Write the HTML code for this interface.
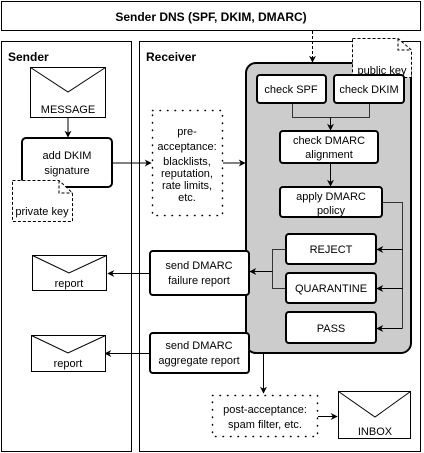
<!DOCTYPE html>
<html><head><meta charset="utf-8"><style>
html,body{margin:0;padding:0;background:#fff;}
svg{display:block;font-family:"Liberation Sans",Arial,sans-serif;}
text{font-size:11px;fill:#000;text-anchor:middle;}
</style></head><body>
<svg width="424" height="453" viewBox="0 0 424 453" xmlns="http://www.w3.org/2000/svg">
<defs>
<marker id="a" viewBox="0 0 10 10" refX="9" refY="5" markerWidth="7" markerHeight="7" orient="auto" markerUnits="userSpaceOnUse"><path d="M0,0 L10,5 L0,10 L3,5 Z" fill="#000"/></marker>
</defs>
<g fill="none" stroke="#000" stroke-width="1">
<rect x="1.5" y="1.5" width="419" height="29"/>
<rect x="1.5" y="41.5" width="130" height="410"/>
<rect x="139.5" y="41.5" width="281" height="410"/>
</g>
<text x="211" y="21" style="font-weight:bold;font-size:12px">Sender DNS (SPF, DKIM, DMARC)</text>
<text x="8" y="61" style="font-weight:bold;font-size:12px;text-anchor:start">Sender</text>
<text x="146" y="61" style="font-weight:bold;font-size:12px;text-anchor:start">Receiver</text>

<rect x="246" y="63" width="165" height="290" rx="10" fill="#ccc" stroke="#000" stroke-width="2"/>

<line x1="312.5" y1="31" x2="312.5" y2="62" stroke="#000" stroke-dasharray="3,2" marker-end="url(#a)"/>
<path d="M352.5,38.5 H398 L411.5,50 V77.5 H352.5 Z" fill="#fff" stroke="#000" stroke-dasharray="3,2"/>
<path d="M398,38.5 V50 H411.5" fill="none" stroke="#000" stroke-dasharray="3,2"/>
<text x="382" y="74">public key</text>

<rect x="30.5" y="67.5" width="75" height="50" fill="#fff" stroke="#000"/>
<path d="M30.5,67.5 L68,92 L105.5,67.5" fill="none" stroke="#000"/>
<text x="68" y="113">MESSAGE</text>
<line x1="68" y1="118" x2="68" y2="137" stroke="#000" marker-end="url(#a)"/>

<rect x="22" y="138" width="90" height="49" rx="4" fill="#fff" stroke="#000" stroke-width="2"/>
<text x="67" y="159">add DKIM</text>
<text x="67" y="174">signature</text>
<path d="M12.5,180.5 H59 L72.5,193 V221.5 H12.5 Z" fill="#fff" stroke="#000" stroke-dasharray="3,2"/>
<path d="M59,180.5 V193 H72.5" fill="none" stroke="#000" stroke-dasharray="3,2"/>
<text x="42" y="215">private key</text>
<line x1="113" y1="163" x2="151" y2="163" stroke="#000" marker-end="url(#a)"/>

<rect x="152.5" y="110.5" width="70" height="105" fill="none" stroke="#000" stroke-width="1.5" stroke-dasharray="0.5,7" stroke-linecap="round"/>
<text x="187" y="135">pre-</text>
<text x="187" y="150">acceptance:</text>
<text x="187" y="165">blacklists,</text>
<text x="187" y="177">reputation,</text>
<text x="187" y="189">rate limits,</text>
<text x="187" y="201">etc.</text>
<line x1="223" y1="163" x2="245" y2="163" stroke="#000" marker-end="url(#a)"/>

<g fill="#fff" stroke="#000" stroke-width="2">
<rect x="257" y="75" width="69" height="28" rx="3"/>
<rect x="334" y="75" width="70" height="28" rx="3"/>
<rect x="280" y="131" width="98" height="32" rx="3"/>
<rect x="280" y="187" width="102" height="30" rx="3"/>
<rect x="286" y="234" width="90" height="30" rx="3"/>
<rect x="286" y="273" width="90" height="30" rx="3"/>
<rect x="286" y="312" width="90" height="31" rx="3"/>
<rect x="150" y="251" width="99" height="44" rx="3"/>
<rect x="150" y="333" width="99" height="40" rx="3"/>
</g>
<text x="291" y="93">check SPF</text>
<text x="369" y="93">check DKIM</text>
<text x="329" y="144">check DMARC</text>
<text x="329" y="158">alignment</text>
<text x="331" y="200">apply DMARC</text>
<text x="331" y="214">policy</text>
<text x="331" y="253">REJECT</text>
<text x="331" y="292">QUARANTINE</text>
<text x="331" y="332">PASS</text>
<text x="199" y="269">send DMARC</text>
<text x="199" y="284">failure report</text>
<text x="199" y="349">send DMARC</text>
<text x="199" y="364">aggregate report</text>

<g fill="none" stroke="#333" stroke-width="1">
<path d="M292.5,104 V117.5 H369.5 V104"/>
<line x1="330.5" y1="117.5" x2="330.5" y2="130" stroke="#000" marker-end="url(#a)"/>
<line x1="330.5" y1="164" x2="330.5" y2="186" stroke="#000" marker-end="url(#a)"/>
<path d="M383,202.5 H402.5 V328.5"/>
<line x1="402.5" y1="249.5" x2="377" y2="249.5" stroke="#000" marker-end="url(#a)"/>
<line x1="402.5" y1="288.5" x2="377" y2="288.5" stroke="#000" marker-end="url(#a)"/>
<line x1="402.5" y1="328.5" x2="377" y2="328.5" stroke="#000" marker-end="url(#a)"/>
<path d="M285,249.5 H272.5 V288.5 H285"/>
<line x1="272.5" y1="271.5" x2="250" y2="271.5" stroke="#000" marker-end="url(#a)"/>
<line x1="150" y1="273.5" x2="108" y2="273.5" stroke="#000" marker-end="url(#a)"/>
<line x1="150" y1="353.5" x2="105" y2="353.5" stroke="#000" marker-end="url(#a)"/>
<line x1="263.5" y1="354" x2="263.5" y2="393" stroke="#000" marker-end="url(#a)"/>
<line x1="318" y1="416.5" x2="337" y2="416.5" stroke="#000" marker-end="url(#a)"/>
</g>

<rect x="32.5" y="255.5" width="74" height="35" fill="#fff" stroke="#000"/>
<path d="M32.5,255.5 L69,273 L106.5,255.5" fill="none" stroke="#000"/>
<text x="69" y="287">report</text>
<rect x="31.5" y="335.5" width="74" height="36" fill="#fff" stroke="#000"/>
<path d="M31.5,335.5 L68,353 L105.5,335.5" fill="none" stroke="#000"/>
<text x="68" y="367">report</text>

<rect x="212.5" y="395.5" width="105" height="41" fill="none" stroke="#000" stroke-width="1.5" stroke-dasharray="0.5,7" stroke-linecap="round"/>
<text x="265" y="413">post-acceptance:</text>
<text x="265" y="428">spam filter, etc.</text>

<rect x="338.5" y="391.5" width="72" height="47" fill="#fff" stroke="#000"/>
<path d="M338.5,391.5 L375,417 L410.5,391.5" fill="none" stroke="#000"/>
<text x="375" y="435">INBOX</text>
</svg>
</body></html>
